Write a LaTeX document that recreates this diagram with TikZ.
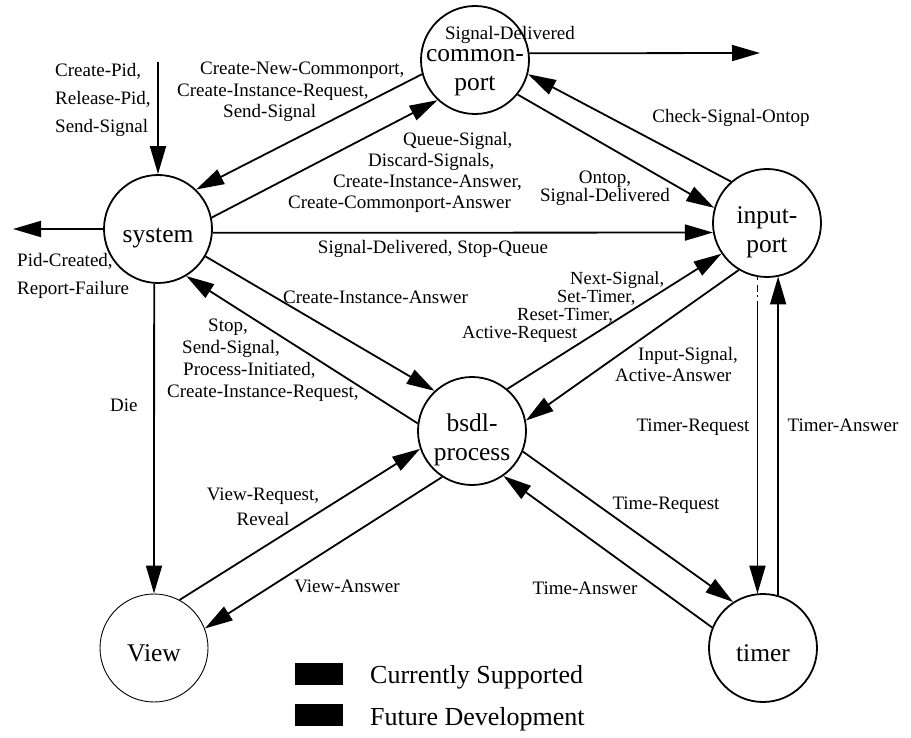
\documentclass[tikz,border=0pt]{standalone}
\usepackage{fontspec}
\setmainfont{Liberation Serif}
\usetikzlibrary{arrows.meta}
\begin{document}
\begin{tikzpicture}[x=1pt,y=-1pt,
  proc/.style={circle, draw, line width=1.8pt, minimum size=108pt, inner sep=0pt},
  pname/.style={font=\fontsize{25.5}{29}\selectfont, align=center, inner sep=0pt, yshift=-9pt},
  flow/.style={line width=1.8pt, -{Triangle[length=28pt,width=16pt]}},
  lbl/.style={font=\fontsize{19}{21}\selectfont, inner sep=0pt},
  keybox/.style={fill=black, minimum width=48pt, minimum height=22pt, inner sep=0pt},
  keytext/.style={font=\fontsize{26}{29}\selectfont, inner sep=0pt, anchor=west},
]
\useasboundingbox (0,0) rectangle (911,738);

% processes
\node[proc, label={[pname, yshift=-4pt]center:common-\\port}] (cp) at (475,60) {};
\node[proc, label={[pname]center:system}] (sys) at (158,229) {};
\node[proc, label={[pname]center:input-\\port}] (ip) at (767,223) {};
\node[proc, label={[pname]center:bsdl-\\process}] (bp) at (472,431) {};
\node[proc, line width=0.9pt, label={[pname, yshift=4pt]center:View}] (view) at (154,648) {};
\node[proc, label={[pname, yshift=4pt]center:timer}] (tm) at (763,648) {};

% external ends
\coordinate (sysIn) at (158,62);
\coordinate (sysOut) at (13,229);
\coordinate (cpOut) at (760,53);

% connectors
\draw[flow] (sysIn) -- (sys.north);
\draw[flow] (sys.west) -- (sysOut);
\draw[flow] (cp.7) -- (cpOut);
\draw[flow] (cp.195) -- (sys.46.5);
\draw[flow] (sys.12) -- (cp.227);
\draw[flow] (ip.131) -- (cp.345);
\draw[flow] (cp.321) -- (ip.164);
\draw[flow] (sys.-4) -- (ip.190);
\draw[flow] (sys.330) -- (bp.133);
\draw[flow] (bp.172) -- (sys.301);
\draw[flow] (bp.50) -- (ip.214);
\draw[flow] (ip.239) -- (bp.11);
\draw[flow] (sys.266) -- (view.90);
\draw[flow] (view.62.5) -- (bp.199);
\draw[flow] (bp.237) -- (view.21);
\draw[flow] (bp.338) -- (tm.123);
\draw[flow] (tm.158) -- (bp.305);
\draw[flow, dash pattern=on 3pt off 5pt on 7pt off 3pt on 2pt off 4pt on 600pt off 1pt]
  (ip.260) -- (ip.260 |- tm.98);
\draw[flow] (tm.74) -- (tm.74 |- ip.283);

% message labels
\node[lbl, anchor=west, align=left, font=\fontsize{19}{28}\selectfont] (lA) at (55,100)
  {Create-Pid,\\Release-Pid,\\Send-Signal};
\node[lbl, anchor=west, align=left, font=\fontsize{19}{21.5}\selectfont] (lB) at (177,92)
  {\hspace*{23pt}Create-New-Commonport,\\Create-Instance-Request,\\\hspace*{46pt}Send-Signal};
\node[lbl, anchor=west, align=left, font=\fontsize{19}{21}\selectfont] (lC) at (288,172)
  {\hspace*{115pt}Queue-Signal,\\\hspace*{80pt}Discard-Signals,\\\hspace*{45pt}Create-Instance-Answer,\\Create-Commonport-Answer};
\node[lbl] (lD) at (510,35) {Signal-Delivered};
\node[lbl] (lE) at (731,118) {Check-Signal-Ontop};
\node[lbl, align=center, font=\fontsize{19}{16}\selectfont] (lF) at (605,188) {Ontop,\\Signal-Delivered};
\node[lbl] (lG) at (433,249) {Signal-Delivered, Stop-Queue};
\node[lbl, anchor=west, align=left, font=\fontsize{19}{28}\selectfont] (lH) at (17,276)
  {Pid-Created,\\Report-Failure};
\node[lbl, anchor=west] (lI) at (283,297) {Create-Instance-Answer};
\node[lbl, anchor=west, align=left, font=\fontsize{19}{22}\selectfont] (lJ) at (167,360)
  {\hspace*{41pt}Stop,\\\hspace*{15pt}Send-Signal,\\\hspace*{16pt}Process-Initiated,\\Create-Instance-Request,};
\node[lbl, anchor=west, align=left, font=\fontsize{18.5}{17.8}\selectfont] (lK) at (462,307)
  {\hspace*{108pt}Next-Signal,\\\hspace*{95pt}Set-Timer,\\\hspace*{55pt}Reset-Timer,\\Active-Request};
\node[lbl, anchor=west, align=left] (lL) at (615,365)
  {\hspace*{23pt}Input-Signal,\\Active-Answer};
\node[lbl, anchor=west] (lM) at (110,405) {Die};
\node[lbl] (lN) at (693,427) {Timer-Request};
\node[lbl] (lO) at (843,425) {Timer-Answer};
\node[lbl, align=center, font=\fontsize{19}{25}\selectfont] (lP) at (263,507) {View-Request,\\Reveal};
\node[lbl] (lQ) at (347,586) {View-Answer};
\node[lbl] (lR) at (666,505) {Time-Request};
\node[lbl] (lS) at (585,588) {Time-Answer};

% legend
\node[keybox] (keyA) at (319,674) {};
\node[keybox] (keyB) at (319,715) {};
\node[keytext] (keyAtext) at (370,677) {Currently Supported};
\node[keytext] (keyBtext) at (370,719) {Future Development};
\end{tikzpicture}
\end{document}
